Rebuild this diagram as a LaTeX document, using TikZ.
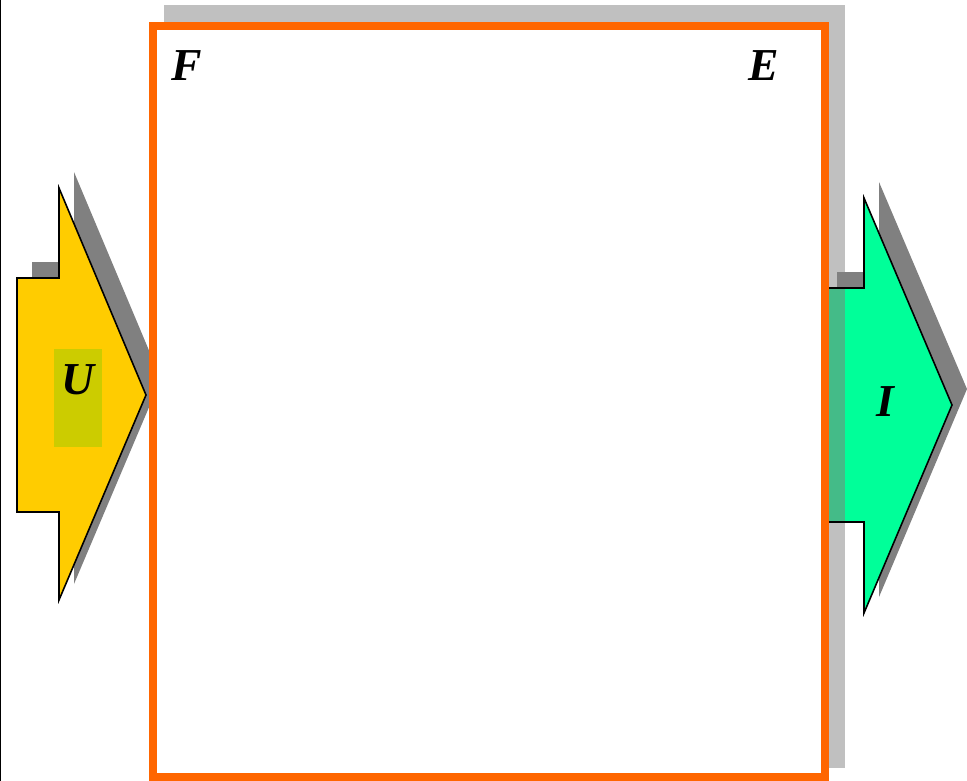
\documentclass[tikz,border=0pt]{standalone}
\usepackage{fontspec}
\setmainfont{Liberation Serif}
\usetikzlibrary{positioning}
\definecolor{frameorange}{HTML}{FF6600}
\definecolor{plategray}{HTML}{C0C0C0}
\definecolor{shadowgray}{HTML}{808080}
\definecolor{inyellow}{HTML}{FFCC00}
\definecolor{inolive}{HTML}{CCCC00}
\definecolor{outgreen}{HTML}{00FF99}
\definecolor{overlapteal}{HTML}{44BB88}
\tikzset{
  plate/.style={fill=plategray},
  dropshadow/.style={fill=shadowgray},
  arrline/.style={draw=black, line width=0.9pt, line join=miter},
  inarrow/.style={arrline, fill=inyellow},
  frame/.style={draw=frameorange, line width=0.16cm, fill=white},
  lbl/.style={inner sep=0pt, font=\fontsize{26}{30}\selectfont\bfseries\itshape},
  labelbox/.style={rectangle, fill=inolive, inner sep=0pt,
    minimum width=0.96cm, minimum height=1.96cm},
}

\begin{document}
\begin{tikzpicture}[x=0.02cm, y=-0.02cm, node distance=0.32cm]
\useasboundingbox (0,0) rectangle (967,781);

% ---------------- BACK PLATE ----------------
\fill[plate] (164,5) rectangle (845,768);

% ---------------- ARROW SHADOWS ----------------
\fill[dropshadow] (32,262) -- (74,262) -- (74,172) -- (161,379) -- (74,584)
  -- (74,496) -- (32,496) -- cycle;
\fill[dropshadow] (837,272) -- (879,272) -- (879,182) -- (967,389) -- (879,597)
  -- (879,506) -- (837,506) -- cycle;

% ---------------- INPUT ARROW ----------------
\filldraw[inarrow] (17,278) -- (59,278) -- (59,188) -- (146,395) -- (59,600)
  -- (59,512) -- (17,512) -- cycle;

% ---------------- OUTPUT ARROW ----------------
\fill[outgreen] (826,288) -- (864,288) -- (864,198) -- (952,405) -- (864,613)
  -- (864,522) -- (826,522) -- cycle;
\fill[overlapteal] (826,288) rectangle (845,522);
\draw[arrline] (826,288) -- (864,288) -- (864,198) -- (952,405) -- (864,613)
  -- (864,522) -- (826,522);

% ---------------- FRAME ----------------
\draw[frame] (152.5,26) rectangle (824.5,777);
\draw[line width=0.03cm] (0.75,0) -- (0.75,781);

% ---------------- LABELS ----------------
\node[lbl] (n-f) at (187,66) {F};
\node[lbl] (n-e) at (764,66) {E};
\node[labelbox] (n-ubox) at (78,398) {};
\node[lbl, below=of n-ubox.north] (n-u) {U};
\node[lbl] (n-i) at (885,402) {I};

\end{tikzpicture}
\end{document}
